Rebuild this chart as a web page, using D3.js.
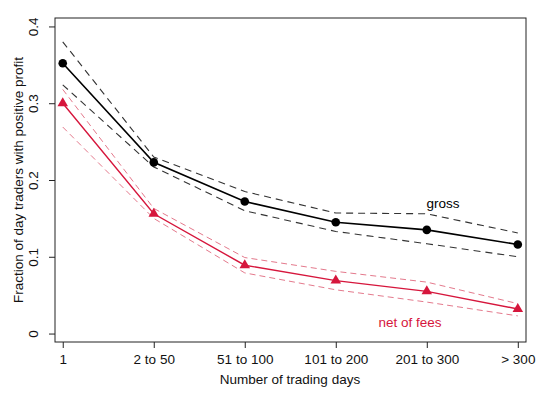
<!DOCTYPE html>
<html>
<head>
<meta charset="utf-8">
<script src="https://cdn.jsdelivr.net/npm/d3@7"></script>
<style>
  body { margin: 0; background: #fff; }
  text { font-family: "Liberation Sans", Arial, sans-serif; }
</style>
</head>
<body>
<svg id="chart" width="545" height="396"></svg>
<script>
// categories on the x axis
const categories = ['1', '2 to 50', '51 to 100', '101 to 200', '201 to 300', '> 300'];
const yTicks = [0, 0.1, 0.2, 0.3, 0.4];

// fraction with positive profit, gross of fees, with band
const gross      = [0.352, 0.223, 0.172, 0.145, 0.135, 0.116];
const grossUpper = [0.380, 0.230, 0.185, 0.157, 0.156, 0.131];
const grossLower = [0.324, 0.217, 0.160, 0.133, 0.117, 0.100];

// net of fees, with band
const net      = [0.300, 0.156, 0.089, 0.069, 0.055, 0.032];
const netUpper = [0.318, 0.163, 0.099, 0.081, 0.067, 0.039];
const netLower = [0.269, 0.150, 0.079, 0.057, 0.041, 0.023];

const svg = d3.select('#chart');
const box = { left: 55, right: 526, top: 18, bottom: 342 };
const red = '#d6163c';
const fs = 13.5;

const x = d3.scaleLinear().domain([0.915, 6.09]).range([box.left, box.right]);
const y = d3.scaleLinear().domain([-0.011, 0.411]).range([box.bottom, box.top]);

// box
svg.append('rect')
  .attr('x', box.left).attr('y', box.top)
  .attr('width', box.right - box.left).attr('height', box.bottom - box.top)
  .attr('fill', 'none').attr('stroke', '#222').attr('stroke-width', 1);

// x axis
const xAxis = svg.append('g').attr('transform', `translate(0, ${box.bottom})`)
  .call(d3.axisBottom(x).tickValues(d3.range(1, 7)).tickSize(6)
    .tickFormat(d => categories[d - 1]));
xAxis.select('.domain').remove();
xAxis.selectAll('line').attr('stroke', '#222');
xAxis.selectAll('text').attr('font-size', fs).attr('fill', '#111').attr('dy', '0.95em');

// y axis
const yAxis = svg.append('g').attr('transform', `translate(${box.left}, 0)`)
  .call(d3.axisLeft(y).tickValues(yTicks).tickSize(6).tickFormat(d3.format('')));
yAxis.select('.domain').remove();
yAxis.selectAll('line').attr('stroke', '#222');
yAxis.selectAll('text')
  .attr('font-size', fs).attr('fill', '#111')
  .attr('x', 0).attr('dy', null)
  .attr('text-anchor', 'middle')
  .attr('transform', 'translate(-17, 0) rotate(-90)');

// axis titles
svg.append('text')
  .attr('x', 290).attr('y', 384)
  .attr('text-anchor', 'middle').attr('font-size', fs).attr('fill', '#111')
  .text('Number of trading days');
svg.append('text')
  .attr('transform', `translate(23, ${(box.top + box.bottom) / 2}) rotate(-90)`)
  .attr('text-anchor', 'middle').attr('font-size', fs).attr('fill', '#111')
  .text('Fraction of day traders with positive profit');

const line = d3.line().x((d, i) => x(i + 1)).y(d => y(d));

function dashed(values, color, width, dash) {
  svg.append('path').datum(values)
    .attr('d', line).attr('fill', 'none')
    .attr('stroke', color).attr('stroke-width', width)
    .attr('stroke-dasharray', dash);
}

// bands
dashed(grossUpper, '#333', 1.1, '7,5');
dashed(grossLower, '#333', 1.1, '7,5');
dashed(netUpper, '#e4798c', 1, '6,4');
dashed(netLower, '#e4798c', 1, '6,4');

// main lines
svg.append('path').datum(gross).attr('d', line)
  .attr('fill', 'none').attr('stroke', '#000').attr('stroke-width', 1.6);
svg.append('path').datum(net).attr('d', line)
  .attr('fill', 'none').attr('stroke', red).attr('stroke-width', 1.4);

// markers
svg.selectAll('circle.gross').data(gross).join('circle')
  .attr('class', 'gross')
  .attr('cx', (d, i) => x(i + 1)).attr('cy', d => y(d))
  .attr('r', 4.3).attr('fill', '#000');

const tri = d3.symbol().type(d3.symbolTriangle).size(48);
svg.selectAll('path.net').data(net).join('path')
  .attr('class', 'net')
  .attr('d', tri)
  .attr('transform', (d, i) => `translate(${x(i + 1)}, ${y(d)})`)
  .attr('fill', red);

// series labels
svg.append('text').attr('x', 443).attr('y', 208)
  .attr('text-anchor', 'middle').attr('font-size', fs).attr('fill', '#000')
  .text('gross');
svg.append('text').attr('x', 410).attr('y', 327)
  .attr('text-anchor', 'middle').attr('font-size', fs).attr('fill', red)
  .text('net of fees');
</script>
</body>
</html>
